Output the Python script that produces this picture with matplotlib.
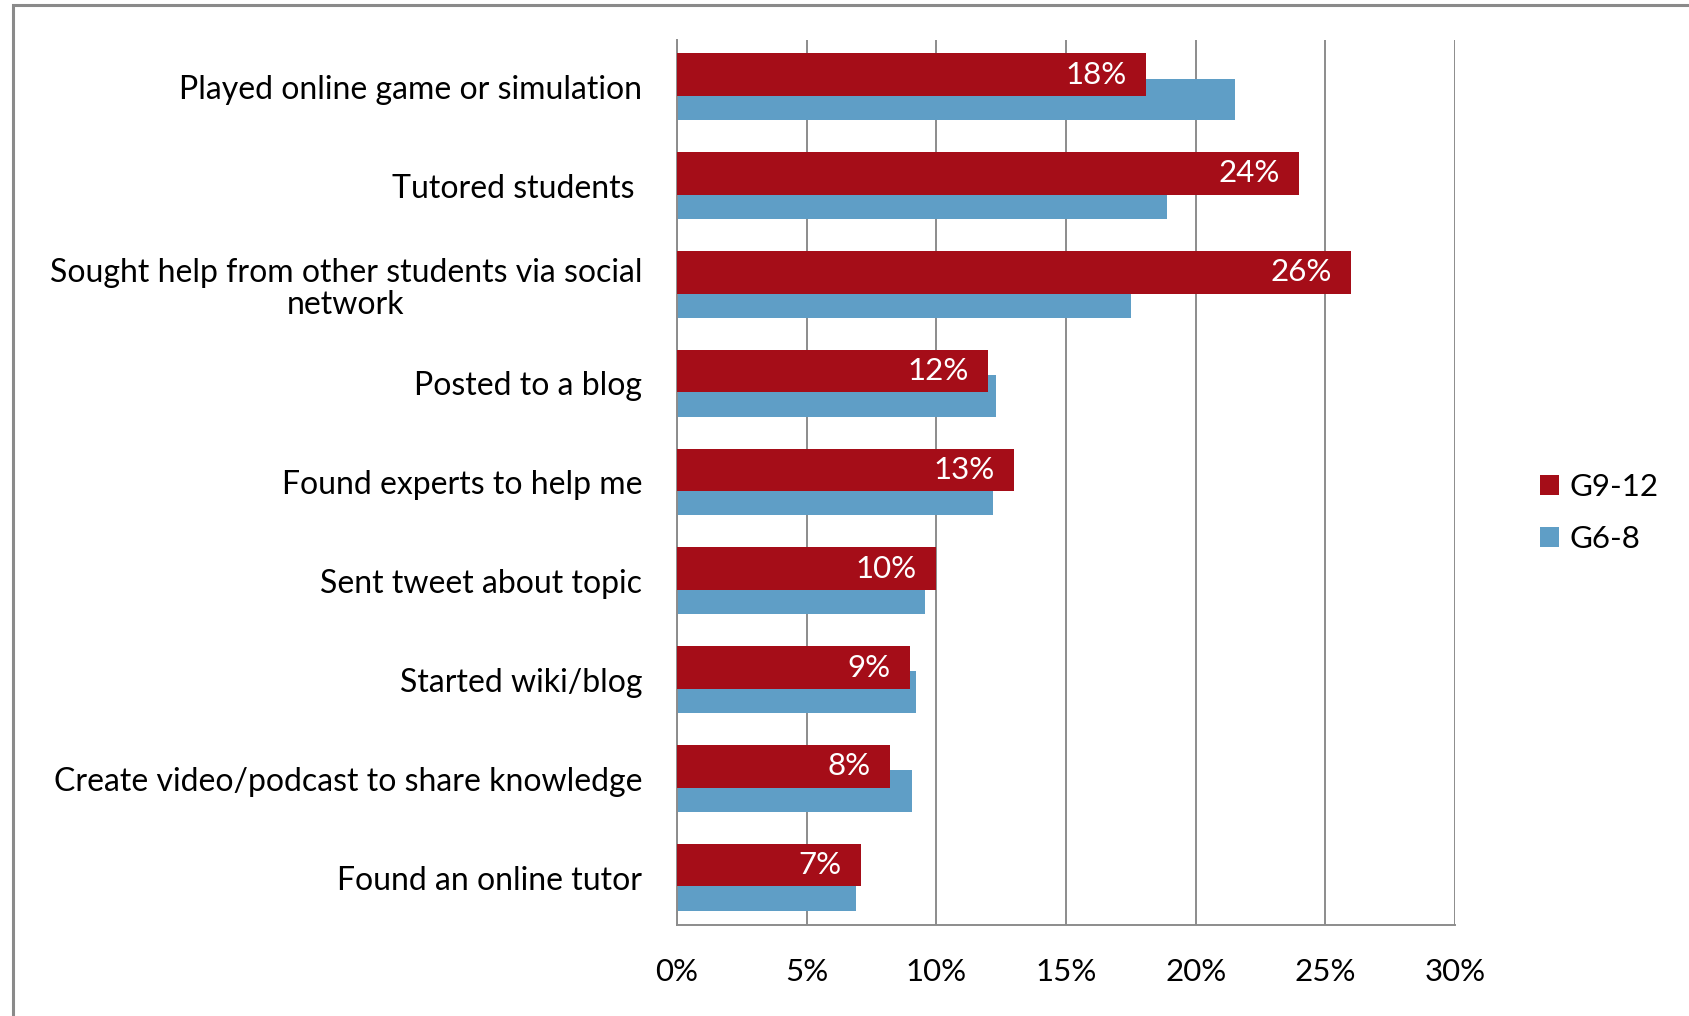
import matplotlib
matplotlib.use("Agg")
import matplotlib.pyplot as plt
import numpy as np
from matplotlib.patches import Rectangle

plt.rcParams['font.family'] = ['Lato', 'DejaVu Sans']

# data
categories = [
    "Played online game or simulation",
    "Tutored students ",
    "Sought help from other students via social\nnetwork",
    "Posted to a blog",
    "Found experts to help me",
    "Sent tweet about topic",
    "Started wiki/blog",
    "Create video/podcast to share knowledge",
    "Found an online tutor",
]
g9_12 = [18.1, 24.0, 26.0, 12.0, 13.0, 10.0, 9.0, 8.2, 7.1]
g6_8 = [21.5, 18.9, 17.5, 12.3, 12.2, 9.55, 9.2, 9.05, 6.9]
g9_12_labels = ["18%", "24%", "26%", "12%", "13%", "10%", "9%", "8%", "7%"]
x_ticks = [0, 5, 10, 15, 20, 25, 30]

RED = "#A50D18"
BLUE = "#5F9EC6"
GRID = "#8C8C8C"
FS = 22.5

fig = plt.figure(figsize=(16.9, 10.16), dpi=100)
ax = fig.add_axes([0.4006, 0.0896, 0.4604, 0.871])

y = np.arange(len(categories))
ax.barh(y + 0.125, g6_8, height=0.42, color=BLUE, zorder=2, label="G6-8")
ax.barh(y - 0.125, g9_12, height=0.43, color=RED, zorder=3, label="G9-12")

for yi, v, lab in zip(y, g9_12, g9_12_labels):
    ax.text(v - 0.75, yi - 0.125, lab, ha="right", va="center",
            color="white", fontsize=FS, zorder=4)

ax.set_xlim(0, 30)
ax.set_ylim(len(categories) - 0.52, -0.475)
ax.set_xticks(x_ticks)
ax.set_xticklabels([f"{t}%" for t in x_ticks], fontsize=FS)
ax.set_yticks(y)
ax.set_yticklabels(categories, fontsize=23, multialignment="center",
                   linespacing=1.1)
ax.tick_params(axis="y", length=0, pad=25)
ax.tick_params(axis="x", length=0, pad=24)

ax.grid(axis="x", color=GRID, linewidth=1.4, zorder=1)
for s in ["top", "right"]:
    ax.spines[s].set_visible(False)
ax.spines["left"].set_color(GRID)
ax.spines["bottom"].set_color(GRID)
ax.spines["left"].set_linewidth(1.4)
ax.spines["bottom"].set_linewidth(1.4)

handles, labels = ax.get_legend_handles_labels()
ax.legend(handles[::-1], labels[::-1], loc="center left",
          bbox_to_anchor=(1.073, 0.4655), frameon=False, fontsize=FS,
          handlelength=0.6, handleheight=0.6, labelspacing=0.75,
          handletextpad=0.35)

# outer frame
fig.patches.append(Rectangle((13 / 1690, -0.05), 1.2, 1 - 5 / 1016 + 0.05,
                             transform=fig.transFigure, fill=False,
                             edgecolor="#8A8A8A", linewidth=2.2))

fig.savefig("out.png", dpi=100)
